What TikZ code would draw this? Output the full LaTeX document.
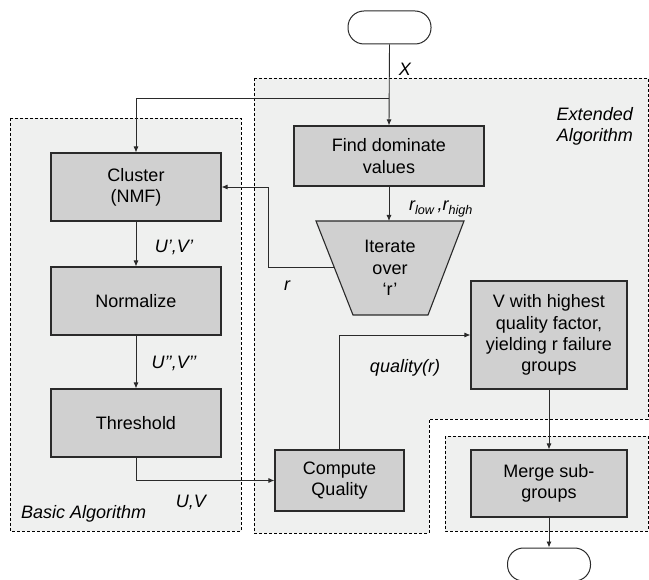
\documentclass[tikz,border=0pt]{standalone}
\usepackage{fontspec}
\setmainfont{Liberation Sans}
\usetikzlibrary{arrows.meta,calc}
\definecolor{boxfill}{HTML}{D0D0D0}
\definecolor{regfill}{HTML}{EFF0EF}
\definecolor{edgec}{HTML}{2A2A2A}
\begin{document}
\begin{tikzpicture}[x=1pt,y=-1pt,
  proc/.style={draw=edgec,fill=boxfill,line width=1.1pt,align=center,inner sep=0pt,font=\fontsize{18}{21.3}\selectfont},
  term/.style={draw=edgec,fill=white,rounded corners=16pt,line width=1pt,inner sep=0pt,minimum width=83pt,minimum height=33pt},
  region/.style={draw=black,fill=regfill,line width=0.9pt,dash pattern=on 3pt off 2pt},
  arr/.style={draw=edgec,line width=0.9pt,-{Latex[length=6pt,width=5pt]}},
  lbl/.style={font=\fontsize{18}{21.3}\selectfont\itshape,inner sep=0pt},
  ]
\useasboundingbox (0,0) rectangle (649,580);
% regions
\path[region] (10,118) rectangle (241,531);
\path[region] (254,78) -- (648,78) -- (648,419) -- (429,419) -- (429,533) -- (254,533) -- cycle;
\path[region] (445,436) rectangle (648,531);
% nodes
\node[term] (start) at (389.5,27.5) {};
\node[proc,minimum width=190pt,minimum height=60pt] (find) at (389,156) {Find dominate\\values};
\node[proc,minimum width=170pt,minimum height=68pt] (cluster) at (136,187) {Cluster\\(NMF)};
\node[proc,minimum width=170pt,minimum height=68pt] (norm) at (136,301) {Normalize};
\node[proc,minimum width=170pt,minimum height=68pt] (thr) at (136,423) {Threshold};
\node[proc,minimum width=129pt,minimum height=61pt] (comp) at (339.5,480.5) {Compute\\Quality};
\node[proc,minimum width=156pt,minimum height=108pt] (vbox) at (549,335) {V with highest\\quality factor,\\yielding r failure\\groups};
\node[proc,minimum width=156pt,minimum height=67pt] (merge) at (549,483.5) {Merge sub-\\groups};
\node[term] (end) at (549,564.5) {};
% trapezoid
\draw[draw=edgec,fill=boxfill,line width=1.1pt] (316,221) coordinate (itl) -- (464,221) coordinate (itr) -- (428,315) coordinate (ibr) -- (353,315) coordinate (ibl) -- cycle;
\node[align=center,inner sep=0pt,font=\fontsize{18}{21.3}\selectfont] (iter) at (390,268) {Iterate\\over\\‘r’};
\coordinate (ittop) at (389,221);
\coordinate (fb) at ($(itl)!0.489!(ibl)$);
\coordinate (br) at (389,98);
\coordinate (fbc) at (268,187);
% connectors
\draw[arr] (start.south) -- (find.north);
\draw[arr] (br) -| (cluster.north);
\draw[arr] (find.south) -- (ittop);
\draw[arr] (fb) -| (fbc) -- (cluster.east);
\draw[arr] (cluster.south) -- (norm.north);
\draw[arr] (norm.south) -- (thr.north);
\draw[arr] (thr.south) |- (comp.west);
\draw[arr] (comp.north) |- (vbox.west);
\draw[arr] (vbox.south) -- (merge.north);
\draw[arr] (merge.south) -- (end.north);
% labels
\node[lbl] (lx) at (405,69) {X};
\node[lbl] (lr) at (441,209) {r\textsubscript{low}\,,r\textsubscript{high}};
\node[lbl] (luv1) at (174,247) {U’,V’};
\node[lbl] (luv2) at (174,363) {U’’,V’’};
\node[lbl] (lrr) at (287,286) {r};
\node[lbl] (lq) at (405,368) {quality(r)};
\node[lbl] (luv) at (191,502) {U,V};
\node[lbl,anchor=west] (lbasic) at (21,514) {Basic Algorithm};
\node[lbl,align=right,anchor=east] (lext) at (633,126) {Extended\\Algorithm};
\end{tikzpicture}
\end{document}
